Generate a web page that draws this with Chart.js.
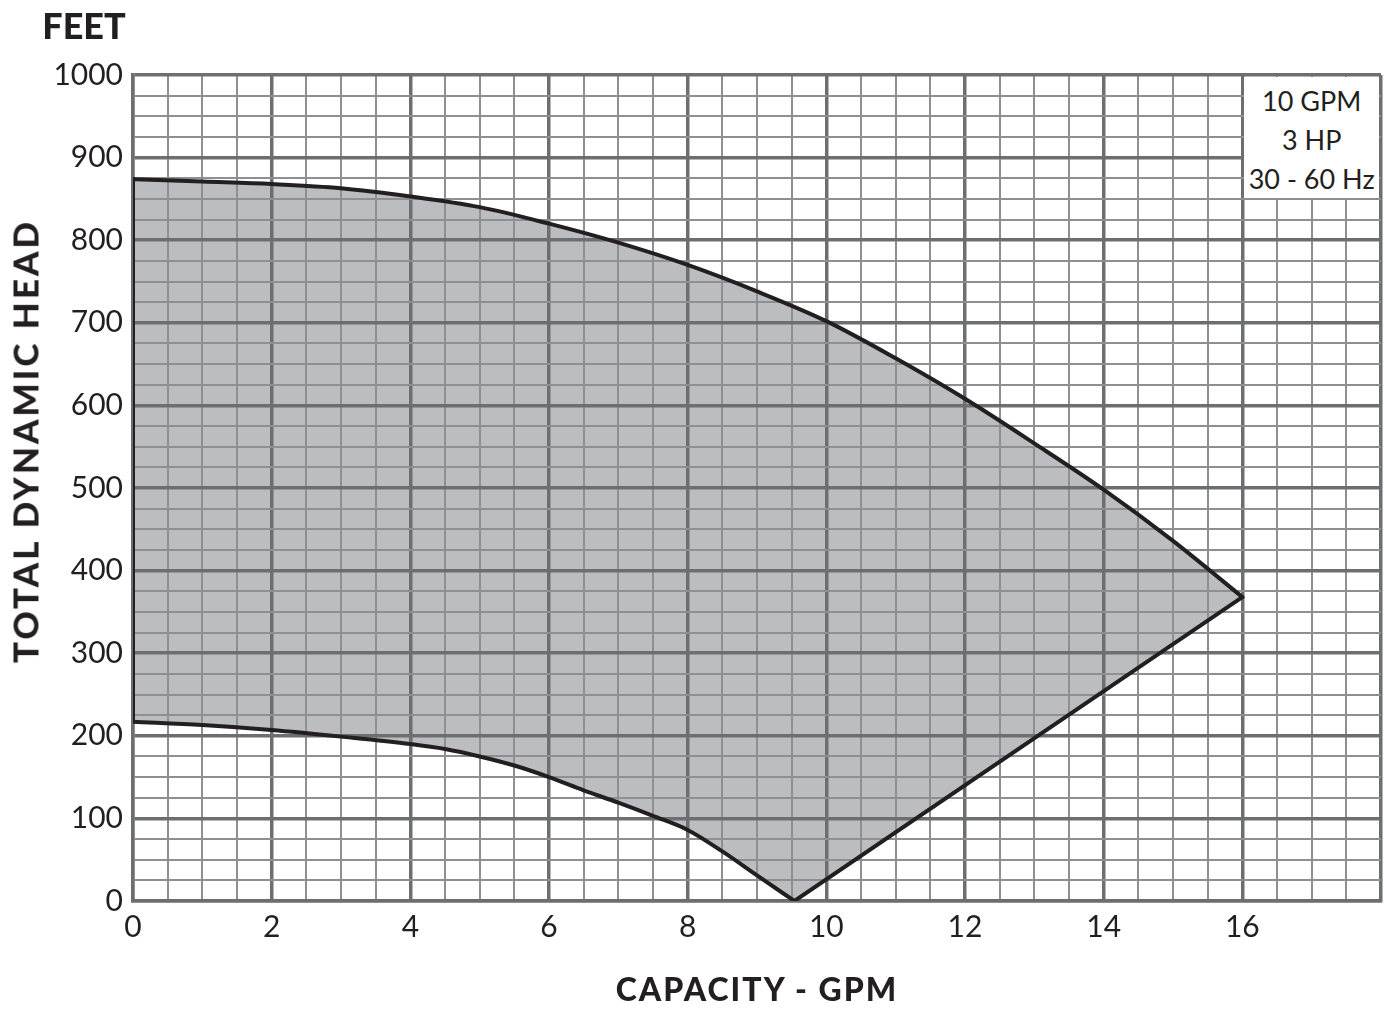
<!DOCTYPE html>
<html><head><meta charset="utf-8">
<script src="https://cdn.jsdelivr.net/npm/chart.js@4.4.1/dist/chart.umd.min.js"></script>
<style>
html,body{margin:0;padding:0;background:#fff;}
#wrap{position:relative;width:1384px;height:1010px;overflow:hidden;background:#fff;}
canvas{position:absolute;left:0;top:0;}
.lbl{position:absolute;font-family:Lato,'Open Sans',sans-serif;color:#231f20;white-space:nowrap;line-height:1;font-weight:900;transform:translate(-50%,-50%);}
#feet{font-size:36px;left:84px;top:25px;}
#ytitle{font-size:35px;letter-spacing:3px;left:25px;top:441px;transform:translate(-50%,-50%) rotate(-90deg);}
#xtitle{font-size:32px;letter-spacing:2px;left:757px;top:989px;}
#note{position:absolute;background:#fff;text-align:center;font-family:Lato,'Open Sans',sans-serif;font-size:27px;color:#231f20;box-sizing:border-box;padding-top:4px;}
#note div{line-height:39px;white-space:nowrap;}
</style></head>
<body><div id="wrap"><canvas id="c" width="1384" height="1010"></canvas>
<div class="lbl" id="feet">FEET</div>
<div class="lbl" id="ytitle">TOTAL DYNAMIC HEAD</div>
<div class="lbl" id="xtitle">CAPACITY - GPM</div>
<div id="note"></div></div>
<script>
// ---- data ----
const upperGpm  = [0, 1, 2, 3, 4, 5, 6, 7, 8, 9, 10, 11, 12, 13, 14, 15, 16];
const upperHead = [874, 871, 868, 863, 853, 840, 820, 797, 770, 738, 702, 657, 608, 554, 498, 436, 368];
const lowerGpm  = [0, 1, 2, 3, 4, 4.5, 5, 5.5, 6, 6.5, 7, 7.5, 8, 8.5, 9, 9.54];
const lowerHead = [217, 213, 207, 199, 190, 184, 175, 164, 150, 134, 119, 103, 86, 60, 31, 0];
const xMajorTicks = [0, 2, 4, 6, 8, 10, 12, 14, 16];
const yMajorTicks = [0, 100, 200, 300, 400, 500, 600, 700, 800, 900, 1000];
const noteLines = ['10 GPM', '3 HP', '30 - 60 Hz'];
const noteRange = {xMin: 16, xMax: 18, yMin: 850, yMax: 1000};

// ---- build point lists ----
const pts = (xs, ys) => xs.map((x, i) => ({x, y: ys[i]}));
const upperPts = pts(upperGpm, upperHead);
const lowerPts = pts(lowerGpm, lowerHead);
const rightPts = [upperPts[upperPts.length - 1], lowerPts[lowerPts.length - 1]];
const leftPts = [lowerPts[0], upperPts[0]];
const shapePts = [...upperPts, lowerPts[lowerPts.length - 1], ...lowerPts.slice(0, -1).reverse()];

const MAJOR = '#6d6e71', MINOR = '#8e8f92', INK = '#231f20', SHADE = '#bcbdc1';
const outline = (data, mono) => ({data, showLine: true, fill: false, borderColor: INK, borderWidth: 4,
  pointRadius: 0, cubicInterpolationMode: mono ? 'monotone' : 'default', tension: 0, borderJoinStyle: 'miter', borderCapStyle: 'round'});

const chart = new Chart(document.getElementById('c'), {
  type: 'scatter',
  data: {datasets: [
    {data: shapePts, showLine: true, fill: 'shape', backgroundColor: SHADE, borderWidth: 0, borderColor: 'rgba(0,0,0,0)', pointRadius: 0, tension: 0},
    outline(upperPts, true),
    outline(lowerPts, true),
    outline(rightPts, false),
    outline(leftPts, false)
  ]},
  options: {
    responsive: false, animation: false, devicePixelRatio: 1,
    layout: {padding: {top: 75, right: 3, left: 0, bottom: 0}},
    plugins: {legend: {display: false}, tooltip: {enabled: false}, filler: {drawTime: 'beforeDraw'}},
    scales: {
      x: {
        type: 'linear', min: 0, max: 18,
        afterFit: s => { s.height = 109; s.paddingRight = 0; s.paddingLeft = 0; },
        grid: {drawTicks: false,
          color: c => (c.tick && c.tick.value % 2 === 0) ? MAJOR : MINOR,
          lineWidth: c => (c.tick && c.tick.value % 2 === 0) ? 3.5 : 2},
        border: {color: MAJOR, width: 3.5},
        ticks: {stepSize: 0.5, autoSkip: false, maxTicksLimit: 1000, maxRotation: 0, padding: 8, color: INK,
          font: {family: 'Lato', size: 30},
          callback: v => xMajorTicks.includes(v) ? String(v) : ''}
      },
      y: {
        type: 'linear', min: 0, max: 1000,
        afterFit: s => { s.width = 133; },
        grid: {drawTicks: false,
          color: c => (c.tick && c.tick.value % 100 === 0) ? MAJOR : MINOR,
          lineWidth: c => (c.tick && c.tick.value % 100 === 0) ? 3.5 : 2},
        border: {color: MAJOR, width: 3.5},
        ticks: {stepSize: 25, autoSkip: false, maxTicksLimit: 1000, padding: 10, color: INK,
          font: {family: 'Lato', size: 30},
          callback: v => yMajorTicks.includes(v) ? String(v) : ''}
      }
    }
  }
});

// note box placed through the chart's scales
const xs = chart.scales.x, ys = chart.scales.y;
const note = document.getElementById('note');
const l = xs.getPixelForValue(noteRange.xMin) + 2, r = xs.getPixelForValue(noteRange.xMax) - 2;
const t = ys.getPixelForValue(noteRange.yMax) + 2, b = ys.getPixelForValue(noteRange.yMin) - 1;
note.style.left = l + 'px'; note.style.top = t + 'px';
note.style.width = (r - l) + 'px'; note.style.height = (b - t) + 'px';
noteLines.forEach(s => { const d = document.createElement('div'); d.textContent = s; note.appendChild(d); });
</script>
</body></html>
